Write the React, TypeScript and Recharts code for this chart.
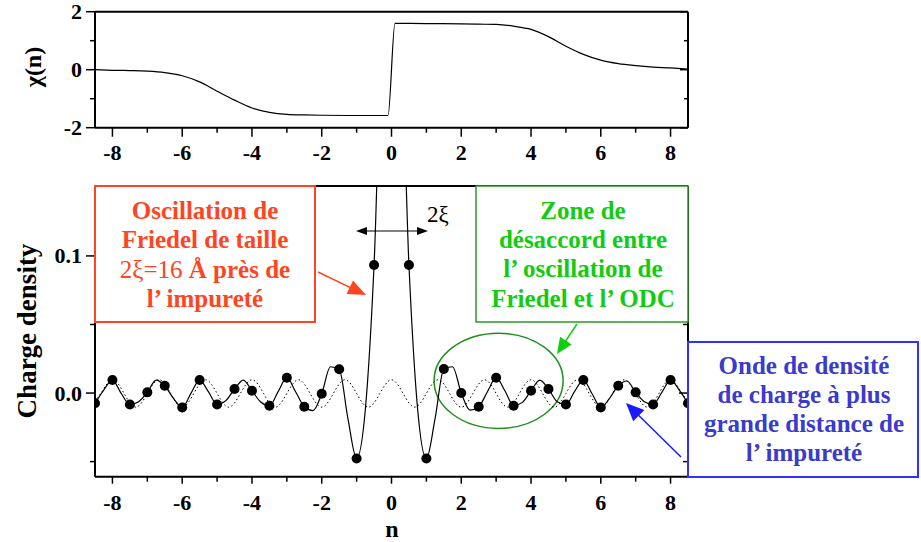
import { ComposedChart, Line, Scatter, XAxis, YAxis, ReferenceArea } from 'recharts';

const FONT = '"Liberation Serif", "Times New Roman", serif';

// top panel: chi(n)
const chiN = [-8.5, -8, -7.5, -7, -6.5, -6, -5.5, -5, -4.5, -4, -3.5, -3, -2.5, -2, -1, -0.1, 0.1, 1, 2, 2.5, 3, 3.5, 4, 4.5, 5, 5.5, 6, 6.5, 7, 7.5, 8, 8.5];
const chiY = [0, -0.02, -0.03, -0.05, -0.1, -0.21, -0.42, -0.74, -1.05, -1.32, -1.47, -1.54, -1.56, -1.57, -1.58, -1.58, 1.6, 1.59, 1.58, 1.57, 1.56, 1.5, 1.39, 1.14, 0.81, 0.53, 0.33, 0.21, 0.14, 0.09, 0.06, 0.02];
const chiYTicks = [-2, -1, 0, 1, 2];
const chiYLabels = [-2, 0, 2];

// bottom panel: charge density (solid curve, lattice sites, dotted CDW)
const solidN = [
  -8.5, -8.25, -8, -7.75, -7.5, -7.25, -7, -6.75, -6.5, -6.25, -6, -5.75, -5.5, -5.25, -5, -4.75, -4.5,
  -4.25, -4, -3.75, -3.5, -3.25, -3, -2.75, -2.5, -2.25, -2, -1.75, -1.5, -1.25, -1, -0.75, -0.5, 0,
  0.5, 0.75, 1, 1.25, 1.5, 1.75, 2, 2.25, 2.5, 2.75, 3, 3.25, 3.5, 3.75, 4, 4.25, 4.5, 4.75, 5,
  5.25, 5.5, 5.75, 6, 6.25, 6.5, 6.75, 7, 7.25, 7.5, 7.75, 8, 8.25, 8.5,
];
const solidY = [
  -0.0075, 0.0022, 0.0095, -0.0002, -0.0083, -0.0063, 0.0005, 0.0095, 0.0053, -0.0039, -0.0105, -0.0002, 0.0095, 0.001, -0.0083, -0.0055, 0.0029,
  0.0095, 0.0017, -0.0065, -0.0092, 0.001, 0.0112, 0.001, -0.01, -0.0128, -0.0005, 0.0192, 0.0173, -0.0185, -0.0477, -0.012, 0.0934, 0.5,
  0.0934, -0.012, -0.0477, -0.0185, 0.0175, 0.0192, 0.0, -0.0124, -0.01, 0.001, 0.0112, 0.0017, -0.0092, -0.0068, 0.0017, 0.0095, 0.0029, -0.0063, -0.0083,
  0.0012, 0.0095, -0.0005, -0.0105, -0.0039, 0.0053, 0.0088, 0.0005, -0.0063, -0.0083, 0.0005, 0.0095, 0.0022, -0.0075,
];

const dotN = [-8.5, -8, -7.5, -7, -6.5, -6, -5.5, -5, -4.5, -4, -3.5, -3, -2.5, -2, -1.5, -1, -0.5, 0.5, 1, 1.5, 2, 2.5, 3, 3.5, 4, 4.5, 5, 5.5, 6, 6.5, 7, 7.5, 8, 8.5];
const dotY = [
  -0.0075, 0.0095, -0.0083, 0.0005, 0.0053, -0.0105, 0.0095, -0.0083, 0.0029, 0.0017, -0.0092, 0.0112, -0.01, -0.0005, 0.0173, -0.0477, 0.0934,
  0.0934, -0.0477, 0.0175, 0.0, -0.01, 0.0112, -0.0092, 0.0017, 0.0029, -0.0083, 0.0095, -0.0105, 0.0053, 0.0005, -0.0083, 0.0095, -0.0075,
];

const cdwN = [
  -8.667, -8.333, -8, -7.667, -7.333, -7, -6.667, -6.333, -6, -5.667, -5.333, -5, -4.667, -4.333, -4, -3.667, -3.333, -3,
  -2.667, -2.333, -2, -1.667, -1.333, -1, -0.667, -0.333, 0, 0.333, 0.667, 1, 1.333, 1.667, 2, 2.333, 2.667, 3,
  3.333, 3.667, 4, 4.333, 4.667, 5, 5.333, 5.667, 6, 6.333, 6.667, 7, 7.333, 7.667, 8, 8.333, 8.667,
];
const cdwY = [
  -0.0103, -0.0003, 0.0097, -0.0003, -0.0103, -0.0003, 0.0097, -0.0003, -0.0103, -0.0003, 0.0097, -0.0003, -0.0103, -0.0003, 0.0097, -0.0003, -0.0103, -0.0003,
  0.0097, -0.0003, -0.0103, -0.0003, 0.0097, -0.0003, -0.0103, -0.0003, 0.0097, -0.0003, -0.0103, -0.0003, 0.0097, -0.0003, -0.0103, -0.0003, 0.0097, -0.0003,
  -0.0103, -0.0003, 0.0097, -0.0003, -0.0103, -0.0003, 0.0097, -0.0003, -0.0103, -0.0003, 0.0097, -0.0003, -0.0103, -0.0003, 0.0097, -0.0003, -0.0103,
];

const nTicks = [-8, -7, -6, -5, -4, -3, -2, -1, 0, 1, 2, 3, 4, 5, 6, 7, 8];
const nLabels = [-8, -6, -4, -2, 0, 2, 4, 6, 8];
const rhoTicks = [-0.05, 0, 0.05, 0.1];
const rhoLabels = [0, 0.1];

const chiData = chiN.map((n, i) => ({ n, v: chiY[i] }));
const solidData = solidN.map((n, i) => ({ n, v: solidY[i] }));
const dotData = dotN.map((n, i) => ({ n, v: dotY[i] }));
const cdwData = cdwN.map((n, i) => ({ n, v: cdwY[i] }));

const labelStyle = { fontFamily: FONT, fontWeight: 700, fontSize: 22, fill: '#000' };
const isIn = (list: number[], v: number) => list.some((t) => Math.abs(t - v) < 1e-9);

function tickRenderer(side: string, labels: number[], majorLen: number, minorLen: number, fmt: (v: number) => string, gap = 32) {
  return (p: any) => {
    const { x, y } = p;
    const v = p.payload.value;
    const major = isIn(labels, v);
    const len = major ? majorLen : minorLen;
    if (side === 'bottom') {
      return (
        <g>
          <line x1={x} x2={x} y1={y} y2={y + len} stroke="#000" strokeWidth={1.5} />
          {major && <text x={x} y={y + gap} textAnchor="middle" {...labelStyle}>{fmt(v)}</text>}
        </g>
      );
    }
    if (side === 'left') {
      return (
        <g>
          <line x1={x} x2={x - len} y1={y} y2={y} stroke="#000" strokeWidth={1.5} />
          {major && <text x={x - 13} y={y + 7.5} textAnchor="end" {...labelStyle}>{fmt(v)}</text>}
        </g>
      );
    }
    if (side === 'top') {
      return <line x1={x} x2={x} y1={y} y2={y + len} stroke="#000" strokeWidth={1.5} />;
    }
    return <line x1={x} x2={x - len} y1={y} y2={y} stroke="#000" strokeWidth={1.5} />;
  };
}

const axisLine = { stroke: '#000', strokeWidth: 2 };
const common = { tickLine: false, tickSize: 0, tickMargin: 0, interval: 0 as const, allowDataOverflow: true, axisLine };

function Arrow({ x1, y1, x2, y2, color, head, half, width = 1.5, both = false }: any) {
  const dx = x2 - x1;
  const dy = y2 - y1;
  const L = Math.hypot(dx, dy);
  const ux = dx / L;
  const uy = dy / L;
  const tri = (tx: number, ty: number, sx: number, sy: number) => {
    const bx = tx - sx * head;
    const by = ty - sy * head;
    return `${tx},${ty} ${bx - sy * half},${by + sx * half} ${bx + sy * half},${by - sx * half}`;
  };
  return (
    <g>
      <line
        x1={both ? x1 + ux * head * 0.6 : x1}
        y1={both ? y1 + uy * head * 0.6 : y1}
        x2={x2 - ux * head * 0.6}
        y2={y2 - uy * head * 0.6}
        stroke={color}
        strokeWidth={width}
      />
      <polygon points={tri(x2, y2, ux, uy)} fill={color} />
      {both && <polygon points={tri(x1, y1, -ux, -uy)} fill={color} />}
    </g>
  );
}

function TextBox({ x, y, w, h, stroke, color, cx, lines, strokeWidth = 2 }: any) {
  const base = { fontFamily: FONT, fontWeight: 700, fontSize: 25, fill: color, textAnchor: 'middle' as const };
  return (
    <g>
      <rect x={x} y={y} width={w} height={h} fill="#fff" stroke={stroke} strokeWidth={strokeWidth} />
      {lines.map((l: any, i: number) => (
        <text key={i} x={cx} y={l.y} {...base}>{l.t}</text>
      ))}
    </g>
  );
}

export default function App() {
  return (
    <div style={{ position: 'absolute', left: 0, top: 0, width: 921, height: 542, background: '#fff' }}>
      <div style={{ position: 'absolute', left: 0, top: 0 }}>
        <ComposedChart width={921} height={170} margin={{ top: 10.7, right: 232, bottom: 12.3, left: 0 }}>
          <XAxis xAxisId="b" dataKey="n" type="number" domain={[-8.5, 8.5]} ticks={nTicks} height={30}
            tick={tickRenderer('bottom', nLabels, 9, 5, (v) => String(v), 32)} {...common} />
          <XAxis xAxisId="t" orientation="top" type="number" domain={[-8.5, 8.5]} ticks={nTicks} height={1}
            tick={tickRenderer('top', nLabels, 8, 4, String)} {...common} />
          <YAxis yAxisId="l" type="number" domain={[-2, 2]} ticks={chiYTicks} width={95}
            tick={tickRenderer('left', chiYLabels, 9, 5, (v) => String(v))} {...common} />
          <YAxis yAxisId="r" orientation="right" type="number" domain={[-2, 2]} ticks={chiYTicks} width={1}
            tick={tickRenderer('right', chiYLabels, 8, 4, String)} {...common} />
          <Line xAxisId="b" yAxisId="l" data={chiData} dataKey="v" type="monotone" stroke="#000" strokeWidth={1.2}
            dot={false} isAnimationActive={false} />
        </ComposedChart>
      </div>
      <div style={{ position: 'absolute', left: 0, top: 170 }}>
        <ComposedChart width={921} height={372} margin={{ top: 15, right: 232, bottom: 25.3, left: 0 }}>
          <XAxis xAxisId="b" dataKey="n" type="number" domain={[-8.5, 8.5]} ticks={nTicks} height={40}
            tick={tickRenderer('bottom', nLabels, 7, 5, (v) => String(v), 33)} {...common} />
          <XAxis xAxisId="t" orientation="top" type="number" domain={[-8.5, 8.5]} ticks={nTicks} height={1}
            tick={tickRenderer('top', nLabels, 9, 4, String)} {...common} />
          <YAxis yAxisId="l" type="number" domain={[-0.061, 0.151]} ticks={rhoTicks} width={95}
            tick={tickRenderer('left', rhoLabels, 9, 5, (v) => v.toFixed(1))} {...common} />
          <YAxis yAxisId="r" orientation="right" type="number" domain={[-0.061, 0.151]} ticks={rhoTicks} width={1}
            tick={tickRenderer('right', rhoLabels, 9, 5, String)} {...common} />
          <Line xAxisId="b" yAxisId="l" data={cdwData} dataKey="v" type="natural" stroke="#000" strokeWidth={1}
            strokeDasharray="1.5 2.5" dot={false} isAnimationActive={false} />
          <Line xAxisId="b" yAxisId="l" data={solidData} dataKey="v" type="monotone" stroke="#000" strokeWidth={1.2}
            dot={false} isAnimationActive={false} />
          <Scatter xAxisId="b" yAxisId="l" data={dotData} dataKey="v" isAnimationActive={false}
            shape={(p: any) => <circle cx={p.cx} cy={p.cy} r={5} fill="#000" />} />
          <ReferenceArea xAxisId="b" yAxisId="l" x1={1.22} x2={4.92} y1={-0.0258} y2={0.0436}
            shape={(p: any) => (
              <ellipse cx={p.x + p.width / 2} cy={p.y + p.height / 2} rx={p.width / 2} ry={p.height / 2}
                fill="none" stroke="#1c8f1c" strokeWidth={1.5} />
            )} />
        </ComposedChart>
      </div>
      <svg width={921} height={542} style={{ position: 'absolute', left: 0, top: 0, pointerEvents: 'none' }}>
        <text transform="translate(41,67) rotate(-90)" textAnchor="middle" fontFamily={FONT} fontWeight={700} fontSize={24}>χ(n)</text>
        <text transform="translate(36,331) rotate(-90)" textAnchor="middle" fontFamily={FONT} fontWeight={700} fontSize={27}>Charge density</text>
        <text x={392} y={537} textAnchor="middle" fontFamily={FONT} fontWeight={700} fontSize={24}>n</text>

        <Arrow x1={356} y1={231} x2={428} y2={231} color="#000" head={11} half={4} width={1.2} both />
        <text x={438} y={222} textAnchor="middle" fontFamily={FONT} fontSize={23}>2ξ</text>

        <TextBox x={95} y={186} w={220} h={136} stroke="#ff4422" color="#ff4422" cx={205}
          lines={[
            { t: 'Oscillation de', y: 218.5 },
            { t: 'Friedel de taille', y: 248 },
            { t: <><tspan fontWeight={400}>2ξ=16 </tspan>Å près de</>, y: 278 },
            { t: 'l’ impureté', y: 307 },
          ]} />
        <Arrow x1={318} y1={272} x2={366} y2={295} color="#ff4422" head={18} half={7.5} />

        <TextBox x={476} y={186} w={212} h={136} stroke="#2a9a2a" color="#11cc11" cx={583} strokeWidth={1.5}
          lines={[
            { t: 'Zone de', y: 218.5 },
            { t: 'désaccord entre', y: 248 },
            { t: 'l’ oscillation de', y: 277 },
            { t: 'Friedel et l’ ODC', y: 307 },
          ]} />
        <Arrow x1={577} y1={324} x2={557} y2={354} color="#11cc11" head={16} half={7} />

        <TextBox x={688} y={342} w={230} h={135} stroke="#3030ff" color="#3a3acc" cx={804}
          lines={[
            { t: 'Onde de densité', y: 373.5 },
            { t: 'de charge à plus', y: 402.5 },
            { t: 'grande distance de', y: 431.5 },
            { t: 'l’ impureté', y: 460.5 },
          ]} />
        <Arrow x1={681} y1={457} x2={626} y2={403} color="#1a1aff" head={18} half={8} />
      </svg>
    </div>
  );
}
